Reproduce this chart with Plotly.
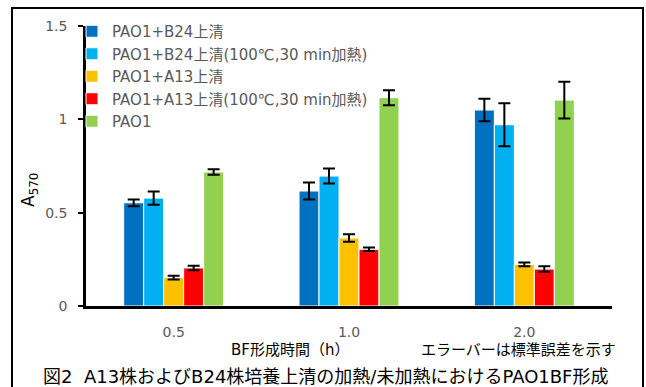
import plotly.graph_objects as go

# BF formation time (h) categories
times = ["0.5", "1.0", "2.0"]

series_names = [
    "PAO1+B24上清",
    "PAO1+B24上清(100℃,30 min加熱)",
    "PAO1+A13上清",
    "PAO1+A13上清(100℃,30 min加熱)",
    "PAO1",
]
b24 = [0.553, 0.616, 1.05]
b24_heat = [0.578, 0.696, 0.971]
a13 = [0.152, 0.364, 0.223]
a13_heat = [0.204, 0.304, 0.198]
pao1 = [0.718, 1.116, 1.103]

b24_se = [0.018, 0.045, 0.06]
b24_heat_se = [0.035, 0.04, 0.115]
a13_se = [0.01, 0.02, 0.01]
a13_heat_se = [0.012, 0.01, 0.015]
pao1_se = [0.015, 0.04, 0.098]

colors = ["#0070C0", "#00B0F0", "#FFC000", "#FF0000", "#92D050"]

values = [b24, b24_heat, a13, a13_heat, pao1]
errors = [b24_se, b24_heat_se, a13_se, a13_heat_se, pao1_se]

FONT = "DejaVu Sans, Noto Sans CJK JP, sans-serif"

fig = go.Figure()
for name, vals, errs, col in zip(series_names, values, errors, colors):
    fig.add_trace(go.Bar(
        x=times, y=vals, name=name,
        marker=dict(color=col, line=dict(color="white", width=1)),
        error_y=dict(type="data", array=errs, visible=True,
                     color="black", thickness=2, width=6),
    ))

W, H = 646, 387
L, R, T, B = 86, 34, 26, 81
pw, ph = W - L - R, H - T - B


def px(x):
    return (x - L) / pw


def py(y):
    return (H - B - y) / ph


fig.update_layout(
    width=W, height=H,
    margin=dict(l=L, r=R, t=T, b=B),
    paper_bgcolor="white", plot_bgcolor="white",
    font=dict(family=FONT, color="#595959", size=14),
    barmode="group", bargap=0.43, bargroupgap=0.0,
    showlegend=True,
    legend=dict(x=px(72), y=py(15), xanchor="left", yanchor="top",
                bgcolor="rgba(0,0,0,0)", font=dict(family=FONT, size=15, color="#595959"),
                itemwidth=30, tracegroupgap=0),
    xaxis=dict(showline=True, linecolor="black", linewidth=3, ticks="",
               tickfont=dict(family=FONT, size=14, color="#595959"), showgrid=False,
               ticklabelstandoff=11),
    yaxis=dict(range=[0, 1.5], tickvals=[0, 0.5, 1, 1.5], ticktext=["0", "0.5", "1", "1.5"],
               showline=True, linecolor="black", linewidth=2.5, ticks="outside",
               ticklen=5, tickwidth=2, tickcolor="black", showgrid=False, zeroline=False,
               tickfont=dict(family=FONT, size=14, color="#595959"), ticklabelstandoff=8),
)

fig.add_annotation(x=px(30), y=py(190), xref="paper", yref="paper",
                   xanchor="center", yanchor="middle",
                   text="A<sub>570</sub>", textangle=-90, showarrow=False,
                   font=dict(family=FONT, size=17, color="black"))
fig.add_annotation(x=px(290), y=py(350), xref="paper", yref="paper",
                   xanchor="center", yanchor="middle",
                   text="BF形成時間（h）", showarrow=False,
                   font=dict(family=FONT, size=15, color="black"))
fig.add_annotation(x=px(518), y=py(350), xref="paper", yref="paper",
                   xanchor="center", yanchor="middle",
                   text="エラーバーは標準誤差を示す", showarrow=False,
                   font=dict(family=FONT, size=15, color="black"))
fig.add_annotation(x=px(325), y=py(376), xref="paper", yref="paper",
                   xanchor="center", yanchor="middle",
                   text="図2  A13株およびB24株培養上清の加熱/未加熱におけるPAO1BF形成",
                   showarrow=False, font=dict(family=FONT, size=18, color="black"))

# outer frame
fig.add_shape(type="rect", xref="paper", yref="paper",
              x0=px(12), x1=px(643), y0=py(420), y1=py(8),
              line=dict(color="black", width=2), layer="below")

fig.write_html("out.html")
